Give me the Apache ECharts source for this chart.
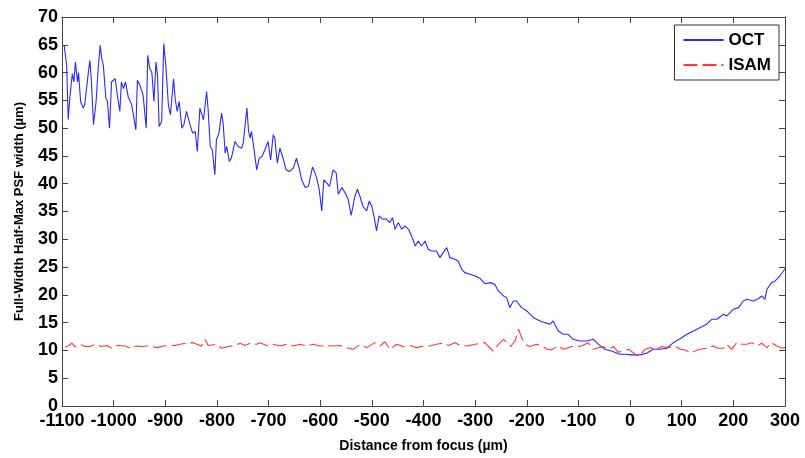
<!DOCTYPE html>
<html>
<head>
<meta charset="utf-8">
<script src="https://cdn.jsdelivr.net/npm/echarts@6/dist/echarts.min.js"></script>
<style>
  html, body { margin: 0; padding: 0; background: #fff; }
  #chart { width: 805px; height: 458px; }
</style>
</head>
<body>
<div id="chart"></div>
<script>
// OCT: x positions (µm) and FWHM values (µm)
var octX = [-1096,-1094,-1091,-1088,-1085,-1080,-1077,-1074,-1070,-1068,-1064,-1059,-1056,-1049,-1046,-1043,-1039,-1034,-1030,-1026,-1023,-1020,-1015,-1012,-1008,-1004,-997,-993,-988,-985,-981,-977,-972,-965,-957,-954,-949,-943,-937,-934,-930,-926,-922,-918,-915,-912,-907,-903,-899,-894,-890,-884,-881,-877,-873,-868,-864,-859,-852,-847,-842,-838,-833,-826,-820,-817,-813,-809,-804,-801,-796,-791,-788,-784,-781,-776,-772,-765,-759,-752,-749,-742,-739,-736,-733,-728,-723,-718,-713,-707,-701,-696,-691,-688,-683,-678,-673,-666,-660,-652,-646,-640,-636,-629,-623,-615,-610,-606,-602,-597,-593,-588,-582,-575,-569,-565,-558,-552,-546,-540,-533,-528,-523,-517,-510,-505,-500,-496,-491,-486,-479,-473,-465,-460,-455,-449,-442,-436,-429,-423,-416,-410,-404,-397,-391,-384,-375,-368,-362,-355,-349,-339,-333,-326,-320,-310,-300,-291,-281,-271,-262,-255,-245,-239,-233,-226,-220,-210,-200,-187,-174,-165,-155,-149,-139,-129,-120,-110,-97,-84,-71,-61,-49,-36,-20,-7,0,19,32,45,58,71,84,97,110,123,135,148,158,168,181,187,200,210,219,226,239,248,255,261,265,274,281,290,297,300];
var octY = [65,65.2,61.3,51.5,55.4,59.8,58.3,61.9,58.3,60,54.8,53.6,54.2,60,62.2,58.3,50.6,54.8,60.7,64.9,62.5,61.3,55.4,54.8,50,58.3,58.9,56,53,58.3,57.1,58.3,55.7,54.2,49.7,58.6,57.7,56,50,63.1,60.7,60,54.8,61.9,59.5,50.3,51.2,65.2,61.3,54.2,52.4,58.9,55.4,53,54.8,50,50.6,53,50.6,49.1,49.4,45.8,53.6,51.5,56.6,53.3,46.7,46.1,41.6,47.9,49.1,52.7,50.9,45.5,46.7,44,44.6,47.6,46.7,46.4,47.3,53.6,49.7,48.2,49.4,46.1,42.5,44.6,44.9,46.1,47.6,44.3,48.8,48.2,43.7,46.4,44.9,42.5,42.2,42.8,44.6,42.5,40.7,39.3,39.5,43,41.9,40.7,39,35.1,40.7,40.2,39.5,42.5,41.9,38.1,39.3,38.4,37.2,34.3,37.7,39,37.7,35.9,35.1,36.9,35.9,34.2,31.5,34.2,33.6,33.7,33,33.9,31.8,33,31.8,32.4,31.8,30.6,28.8,29.7,28.8,29.7,28.2,27.9,27.9,26.7,27.6,28.5,26.7,26.4,26.1,24.6,24,23.7,23.4,23,22,22.2,21.9,20.7,19.8,19.5,17.7,18.9,18.9,17.7,17.1,15.9,15.3,15,14.7,15.3,13.5,12.9,12.9,12,11.7,11.7,12,11.1,10.2,9.9,9.3,9.3,9.2,9.2,9.5,10.2,10.2,10.4,11.4,12.1,12.9,13.5,14.1,14.7,15.6,15.6,16.5,16.2,17.4,17.7,18.9,19.2,18.9,19.3,19.8,19.2,21,22.2,22.5,23.4,24.3,24.7];

// ISAM: x positions (µm) and FWHM values (µm)
var isamX = [-1094,-1088,-1081,-1075,-1065,-1055,-1046,-1036,-1023,-1013,-1004,-994,-978,-968,-955,-943,-930,-917,-904,-891,-881,-872,-859,-846,-830,-823,-817,-801,-791,-778,-765,-755,-746,-736,-723,-717,-704,-691,-678,-665,-652,-639,-626,-614,-601,-588,-575,-562,-549,-536,-523,-510,-494,-484,-475,-465,-452,-439,-426,-413,-400,-388,-375,-362,-352,-339,-329,-316,-300,-281,-275,-265,-255,-245,-239,-231,-223,-216,-210,-203,-194,-181,-171,-161,-152,-139,-129,-120,-107,-97,-87,-81,-71,-61,-52,-42,-32,-23,-13,-3,6,16,29,39,52,61,74,87,97,106,116,126,135,148,161,171,181,187,197,207,216,226,236,245,255,265,274,284,294,300];
var isamY = [10.6,10.8,11.3,10.7,11.1,10.7,10.7,11.1,10.7,10.9,10.4,10.9,10.8,10.4,10.8,10.7,10.9,10.5,10.8,10.9,10.9,11.1,11.3,11.4,10.8,12,10.9,11.1,10.4,10.7,10.9,11.3,10.9,11.3,11.1,11.4,10.9,11.1,10.8,11.1,10.8,11.1,10.8,11.1,10.8,10.9,10.8,10.9,10.5,10.2,11.1,10.5,11.4,10.8,11.6,10.2,11.1,10.7,10.9,10.5,10.8,10.8,11.1,11.3,10.9,11.4,10.9,10.8,11.1,11.4,10.8,9.9,11.1,12,11.4,10.7,11.7,13.8,12.3,11.1,10.7,11.1,10.9,10.2,10.1,10.8,10.2,10.5,10.9,10.7,11.1,11.4,10.2,10.5,10.7,10.2,10.7,9.7,9.9,10.2,9.6,8.9,10.2,10.5,10.2,10.7,10.5,10.8,10.2,10.1,9.6,9.9,10.2,10.4,10.8,10.4,10.4,11.1,10.2,11.5,11.1,11.1,11.4,10.8,11.3,10.5,11.4,10.8,10.4,10.5];

var seriesNames = ['OCT', 'ISAM'];

function pairs(xs, ys) {
  var out = [];
  for (var i = 0; i < xs.length; i++) out.push([xs[i], ys[i]]);
  return out;
}

var font = "'Liberation Sans', Arial, sans-serif";
var axisColor = '#444';
var plain = function (v) { return String(v); };

var chart = echarts.init(document.getElementById('chart'));
var option = {
  animation: false,
  backgroundColor: '#fff',
  grid: { left: 62, top: 17, right: 20, bottom: 51 },
  legend: {
    orient: 'vertical',
    right: 26,
    top: 25,
    padding: [5, 8],
    itemGap: 5,
    itemWidth: 40,
    itemHeight: 20,
    backgroundColor: '#fff',
    borderColor: '#333',
    borderWidth: 1,
    borderRadius: 0,
    itemStyle: { opacity: 0 },
    textStyle: { fontFamily: font, fontWeight: 'bold', fontSize: 17, color: '#000', lineHeight: 20 },
    data: seriesNames
  },
  xAxis: [{
    type: 'value',
    min: -1100,
    max: 300,
    interval: 100,
    name: 'Distance from focus (\u00b5m)',
    nameLocation: 'middle',
    nameGap: 33,
    nameTextStyle: { fontFamily: font, fontWeight: 'bold', fontSize: 14, color: '#000' },
    axisLine: { onZero: false, lineStyle: { color: axisColor, width: 1 } },
    axisTick: { inside: true, length: 6, lineStyle: { color: axisColor } },
    axisLabel: { fontFamily: font, fontWeight: 'bold', fontSize: 18, color: '#000', margin: 6, formatter: plain },
    splitLine: { show: false }
  }, {
    type: 'value',
    position: 'top',
    min: -1100,
    max: 300,
    interval: 100,
    axisLine: { onZero: false, lineStyle: { color: axisColor, width: 1 } },
    axisTick: { inside: true, length: 6, lineStyle: { color: axisColor } },
    axisLabel: { show: false },
    splitLine: { show: false }
  }],
  yAxis: [{
    type: 'value',
    min: 0,
    max: 70,
    interval: 5,
    name: 'Full-Width Half-Max PSF width (\u00b5m)',
    nameLocation: 'middle',
    nameGap: 36,
    nameTextStyle: { fontFamily: font, fontWeight: 'bold', fontSize: 13, color: '#000' },
    axisLine: { show: true, onZero: false, lineStyle: { color: axisColor, width: 1 } },
    axisTick: { show: true, inside: true, length: 6, lineStyle: { color: axisColor } },
    axisLabel: { fontFamily: font, fontWeight: 'bold', fontSize: 18, color: '#000', margin: 4, formatter: plain },
    splitLine: { show: false }
  }, {
    type: 'value',
    position: 'right',
    min: 0,
    max: 70,
    interval: 5,
    axisLine: { show: true, onZero: false, lineStyle: { color: axisColor, width: 1 } },
    axisTick: { show: true, inside: true, length: 6, lineStyle: { color: axisColor } },
    axisLabel: { show: false },
    splitLine: { show: false }
  }],
  series: [{
    name: seriesNames[0],
    type: 'line',
    data: pairs(octX, octY),
    showSymbol: false,
    symbol: 'none',
    lineStyle: { color: '#2a2aff', width: 1.1 },
    itemStyle: { color: '#2a2aff' }
  }, {
    name: seriesNames[1],
    type: 'line',
    data: pairs(isamX, isamY),
    showSymbol: false,
    symbol: 'none',
    lineStyle: { color: '#ff3838', width: 1.1, type: [14, 5] },
    itemStyle: { color: '#ff3838' }
  }]
};
chart.setOption(option);
</script>
</body>
</html>
